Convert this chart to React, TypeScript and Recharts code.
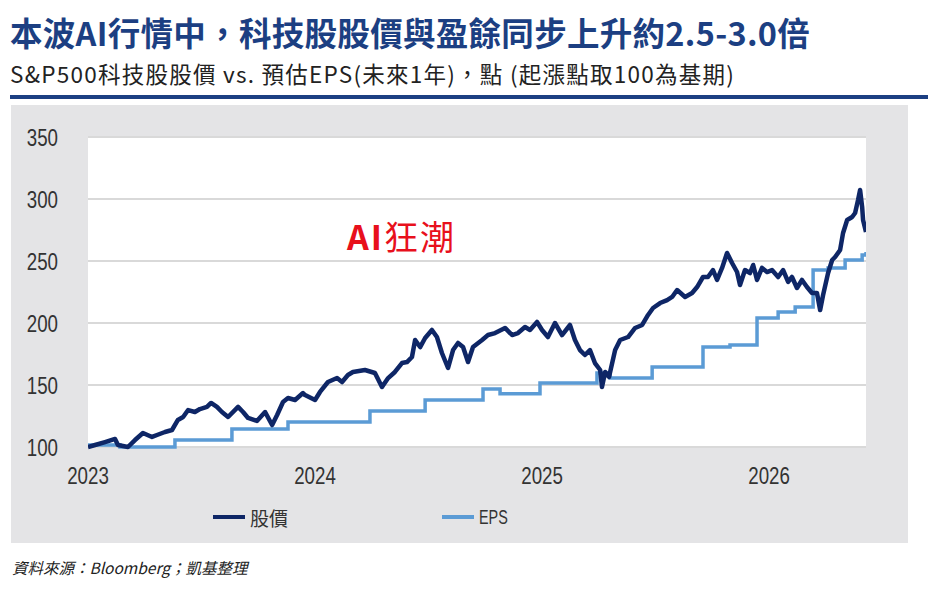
import { LineChart, Line, XAxis, YAxis, CartesianGrid, Legend } from 'recharts';

const priceYears = [
  2023.0, 2023.031, 2023.075, 2023.119, 2023.132, 2023.176, 2023.207, 2023.242, 2023.282, 2023.304,
  2023.339, 2023.37, 2023.396, 2023.419, 2023.441, 2023.471, 2023.493, 2023.524, 2023.542, 2023.568,
  2023.59, 2023.617, 2023.661, 2023.683, 2023.705, 2023.744, 2023.78, 2023.811, 2023.833, 2023.859,
  2023.881, 2023.912, 2023.947, 2023.956, 2024.0, 2024.022, 2024.057, 2024.097, 2024.119, 2024.145,
  2024.167, 2024.22, 2024.264, 2024.295, 2024.322, 2024.352, 2024.383, 2024.405, 2024.427, 2024.441,
  2024.463, 2024.485, 2024.515, 2024.537, 2024.559, 2024.586, 2024.608, 2024.63, 2024.652, 2024.674,
  2024.696, 2024.736, 2024.762, 2024.793, 2024.837, 2024.868, 2024.894, 2024.925, 2024.947, 2024.978,
  2025.0, 2025.026, 2025.057, 2025.088, 2025.123, 2025.145, 2025.167, 2025.189, 2025.211, 2025.233,
  2025.256, 2025.264, 2025.278, 2025.295, 2025.322, 2025.344, 2025.379, 2025.41, 2025.441, 2025.467,
  2025.489, 2025.52, 2025.551, 2025.573, 2025.595, 2025.63, 2025.661, 2025.683, 2025.709, 2025.731,
  2025.753, 2025.771, 2025.793, 2025.815, 2025.837, 2025.859, 2025.872, 2025.894, 2025.916, 2025.93,
  2025.947, 2025.969, 2025.991, 2026.013, 2026.04, 2026.062, 2026.084, 2026.101, 2026.123, 2026.145,
  2026.167, 2026.189, 2026.211, 2026.225, 2026.238, 2026.26, 2026.278, 2026.291, 2026.313, 2026.326,
  2026.344, 2026.366, 2026.379, 2026.392, 2026.401, 2026.41, 2026.414, 2026.427,
];

const priceValues = [
  100.0, 101.6, 104.0, 106.5, 101.6, 100.0, 105.6, 111.3, 108.1, 109.7,
  112.1, 113.7, 121.8, 124.2, 129.8, 128.2, 130.6, 132.3, 135.5, 132.3,
  128.2, 124.2, 132.3, 128.2, 123.4, 121.0, 128.2, 117.7, 125.8, 136.3,
  139.5, 137.9, 143.5, 141.9, 137.9, 144.4, 152.4, 155.6, 152.4, 158.1,
  160.5, 162.1, 159.7, 148.4, 155.6, 160.5, 167.7, 168.5, 172.6, 186.3,
  180.6, 187.9, 194.4, 188.7, 175.8, 163.7, 178.2, 183.9, 180.6, 168.5,
  180.6, 186.3, 190.3, 191.9, 196.0, 190.3, 191.9, 196.8, 194.4, 200.8,
  194.4, 188.7, 200.0, 190.3, 198.4, 186.3, 178.2, 174.2, 178.2, 167.7,
  162.1, 148.4, 160.5, 156.5, 178.2, 186.3, 188.7, 196.0, 198.4, 206.5,
  212.1, 216.1, 218.5, 221.0, 226.6, 221.0, 224.2, 229.0, 237.1, 237.1,
  242.7, 234.7, 244.4, 256.5, 248.4, 241.1, 230.6, 242.7, 240.3, 246.8,
  234.7, 244.4, 241.1, 242.7, 237.1, 242.7, 233.1, 237.1, 228.2, 234.7,
  229.0, 224.2, 224.2, 210.5, 222.6, 240.3, 250.8, 253.2, 258.9, 272.6,
  283.1, 285.5, 288.7, 299.2, 307.3, 293.6, 283.1, 273.4,
];

const epsYears = [
  2023.0, 2023.141, 2023.383, 2023.634, 2023.881, 2024.242, 2024.485, 2024.74, 2024.815, 2024.991,
  2025.242, 2025.3, 2025.485, 2025.709, 2025.828, 2025.947, 2026.04, 2026.115, 2026.194, 2026.26,
  2026.335, 2026.41, 2026.427,
];

const epsValues = [
  101.6, 100.0, 105.6, 114.5, 120.2, 129.0, 137.9, 146.8, 143.0, 151.6,
  159.7, 155.6, 164.5, 180.6, 182.3, 204.0, 208.9, 212.9, 242.7, 244.4,
  250.8, 254.8, 257.3,
];

const yTicks = [100, 150, 200, 250, 300, 350];
const xTicks = [2023, 2024, 2025, 2026];
const seriesNames = ['股價', 'EPS'];

const priceData = priceYears.map((t, i) => ({ t, v: priceValues[i] }));
const epsData = epsYears.map((t, i) => ({ t, v: epsValues[i] }));

const NAVY = '#0e2666';
const LIGHT = '#5b9bd5';
const TICK_FONT = '"Liberation Sans", Arial, sans-serif';
const CJK = '"Noto Sans CJK TC", "Noto Sans", sans-serif';

// narrow, tall tick labels like the original
function NarrowTick({ x, y, payload, anchor, dy }: any) {
  return (
    <g transform={`translate(${x},${y})`}>
      <text transform="scale(0.78,1)" textAnchor={anchor} dy={dy} fill="#333" fontSize={24} fontFamily={TICK_FONT}>
        {payload.value}
      </text>
    </g>
  );
}

function LegendContent() {
  const items = [
    { name: seriesNames[0], color: NAVY, font: CJK, size: 19, sx: 1 },
    { name: seriesNames[1], color: LIGHT, font: TICK_FONT, size: 20, sx: 0.72 },
  ];
  return (
    <div style={{ display: 'flex', gap: 154, height: 26 }}>
      {items.map((it) => (
        <div key={it.name} style={{ display: 'flex', alignItems: 'center' }}>
          <div style={{ width: 32, height: 4, background: it.color, marginRight: 5 }} />
          <span style={{ display: 'inline-block', fontFamily: it.font, fontSize: it.size, color: '#333', transform: `scaleX(${it.sx})`, transformOrigin: 'left center' }}>{it.name}</span>
        </div>
      ))}
    </div>
  );
}

export default function App() {
  return (
    <div style={{ position: 'absolute', left: 0, top: 0, width: 928, height: 595, background: '#fff', overflow: 'hidden' }}>
      <div style={{ position: 'absolute', left: 10, top: 16, fontFamily: CJK, fontWeight: 700, fontSize: 32.5, letterSpacing: 0.3, color: '#1c3f82', whiteSpace: 'nowrap', lineHeight: 1 }}>
        本波AI行情中，科技股股價與盈餘同步上升約2.5-3.0倍
      </div>
      <div style={{ position: 'absolute', left: 10, top: 62, fontFamily: CJK, fontSize: 22.5, letterSpacing: 1.25, color: '#222', whiteSpace: 'nowrap', lineHeight: 1 }}>
        S&amp;P500科技股股價 vs. 預估EPS(未來1年)，點 (起漲點取100為基期)
      </div>
      <div style={{ position: 'absolute', left: 10, top: 95, width: 918, height: 4, background: '#1c3f82' }} />
      <div style={{ position: 'absolute', left: 11, top: 105, width: 897, height: 438, background: '#e4e4e6' }} />
      <div style={{ position: 'absolute', left: 11, top: 105 }}>
        <LineChart width={897} height={438} margin={{ top: 32, right: 42, bottom: 0, left: 17 }}>
          <CartesianGrid horizontal vertical={false} stroke="#d9d9d9" strokeWidth={2} fill="#ffffff" />
          <XAxis
            type="number" dataKey="t" domain={[2023, 2026.427]} ticks={xTicks} allowDataOverflow
            axisLine={false} tickLine={false} tickSize={18} tickMargin={2} height={70}
            tick={<NarrowTick anchor="middle" dy="0.71em" />}
          />
          <YAxis
            type="number" domain={[100, 350]} ticks={yTicks} width={60}
            axisLine={false} tickLine={false} tickSize={28} tickMargin={2}
            tick={<NarrowTick anchor="end" dy="0.36em" />}
          />
          <Legend content={<LegendContent />} wrapperStyle={{ left: 202, top: 399, width: 'auto', height: 26 }} />
          <Line data={epsData} dataKey="v" name={seriesNames[1]} type="stepAfter" stroke={LIGHT} strokeWidth={3.5} dot={false} isAnimationActive={false} />
          <Line data={priceData} dataKey="v" name={seriesNames[0]} type="linear" stroke={NAVY} strokeWidth={4.5} strokeLinejoin="round" dot={false} isAnimationActive={false} />
        </LineChart>
      </div>
      <div style={{ position: 'absolute', left: 347, top: 219, fontFamily: CJK, fontSize: 34, letterSpacing: 2, color: '#e8101c', whiteSpace: 'nowrap', lineHeight: 1 }}>
        <span style={{ fontWeight: 700 }}>AI</span>狂潮
      </div>
      <div style={{ position: 'absolute', left: 12, top: 556, fontFamily: CJK, fontSize: 15.5, fontStyle: 'italic', color: '#222', whiteSpace: 'nowrap' }}>
        資料來源：Bloomberg；凱基整理
      </div>
    </div>
  );
}
